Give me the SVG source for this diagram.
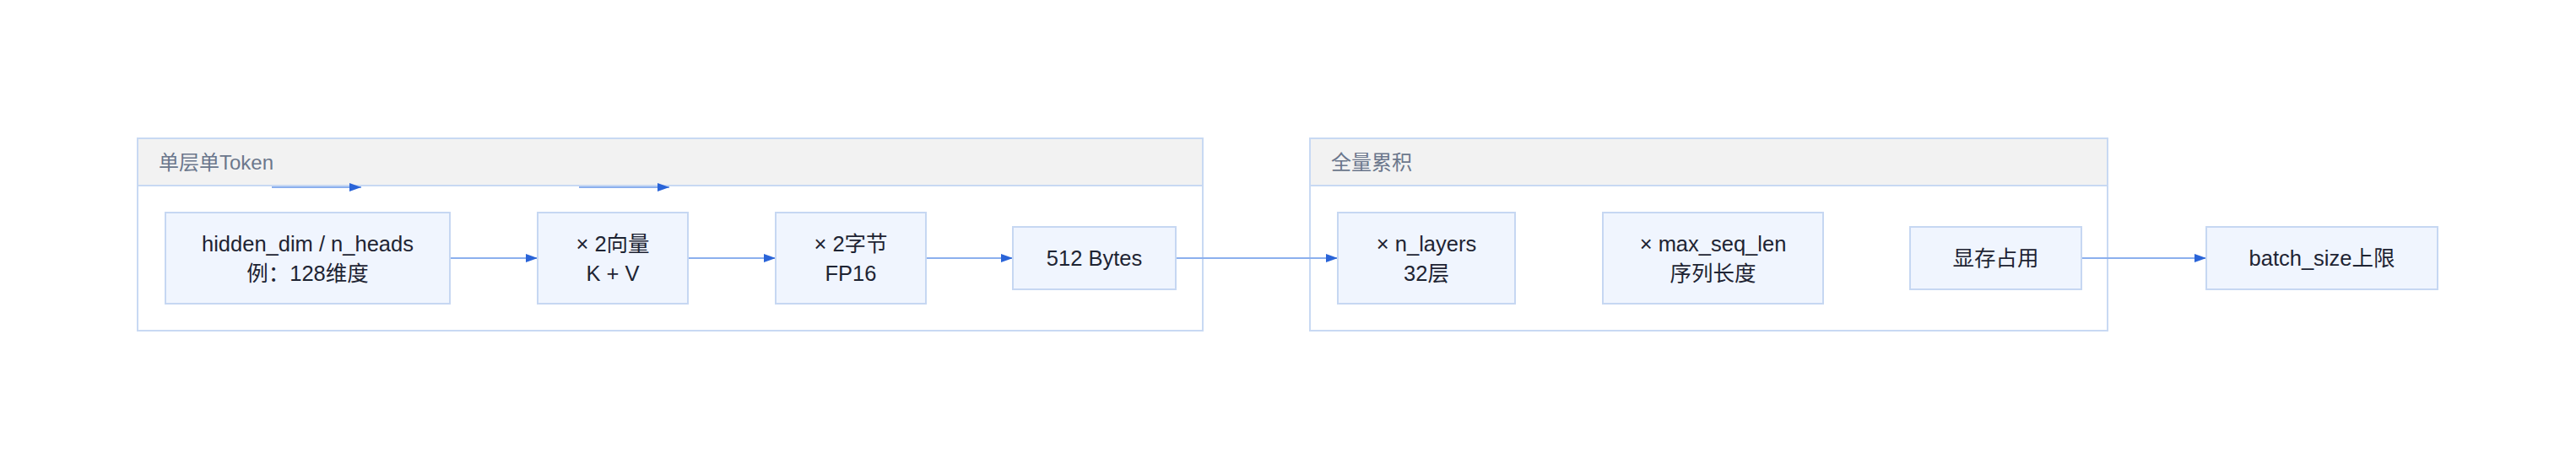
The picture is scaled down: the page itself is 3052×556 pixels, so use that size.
<svg xmlns="http://www.w3.org/2000/svg" width="3052" height="556" viewBox="0 0 3052 556">
<style>
.bg{fill:#ffffff}
.cluster{fill:#ffffff;stroke:#c8d9f3;stroke-width:2}
.chead{fill:#f2f2f2;stroke:#c8d9f3;stroke-width:2}
.clabel{font-family:"Liberation Sans","Noto Sans CJK SC",sans-serif;font-size:24px;fill:#6b778c}
.node rect{fill:#f0f5fe;stroke:#c6d7f2;stroke-width:2}
.node text{font-family:"Liberation Sans","Noto Sans CJK SC",sans-serif;font-size:25.5px;fill:#1e2433;text-anchor:middle}
.edge{stroke:#8cb0ee;stroke-width:2;fill:none;marker-end:url(#arr)}
</style>
<defs>
<marker id="arr" markerUnits="userSpaceOnUse" markerWidth="14" markerHeight="10" refX="14" refY="5" orient="auto" viewBox="0 0 14 10">
<path d="M0,0 L14,5 L0,10 z" fill="#2a64d8"/>
</marker>
</defs>
<rect class="bg" x="0" y="0" width="3052" height="556"/>
<g id="cluster-single">
<rect class="cluster" x="163" y="164" width="1262" height="228"/>
<rect class="chead" x="163" y="164" width="1262" height="56"/>
<text class="clabel" x="188" y="201">单层单Token</text>
</g>
<g id="cluster-total">
<rect class="cluster" x="1552" y="164" width="945" height="228"/>
<rect class="chead" x="1552" y="164" width="945" height="56"/>
<text class="clabel" x="1577" y="201">全量累积</text>
</g>
<g id="connectors">
<line class="edge" x1="322" y1="222" x2="428" y2="222"/>
<line class="edge" x1="686" y1="222" x2="793" y2="222"/>
<line class="edge" x1="533" y1="306" x2="637" y2="306"/>
<line class="edge" x1="815" y1="306" x2="919" y2="306"/>
<line class="edge" x1="1097" y1="306" x2="1200" y2="306"/>
<line class="edge" x1="1393" y1="306" x2="1585" y2="306"/>
<line class="edge" x1="2466" y1="306" x2="2614" y2="306"/>
</g>
<g id="n1" class="node">
<rect x="196" y="252" width="337" height="108"/>
<text x="364.5" y="298">hidden_dim / n_heads</text>
<text x="364.5" y="333">例：128维度</text>
</g>
<g id="n2" class="node">
<rect x="637" y="252" width="178" height="108"/>
<text x="726" y="298">× 2向量</text>
<text x="726" y="333">K + V</text>
</g>
<g id="n3" class="node">
<rect x="919" y="252" width="178" height="108"/>
<text x="1008" y="298">× 2字节</text>
<text x="1008" y="333">FP16</text>
</g>
<g id="n4" class="node">
<rect x="1200" y="269" width="193" height="74"/>
<text x="1296.5" y="315">512 Bytes</text>
</g>
<g id="n5" class="node">
<rect x="1585" y="252" width="210" height="108"/>
<text x="1690" y="298">× n_layers</text>
<text x="1690" y="333">32层</text>
</g>
<g id="n6" class="node">
<rect x="1899" y="252" width="261" height="108"/>
<text x="2029.5" y="298">× max_seq_len</text>
<text x="2029.5" y="333">序列长度</text>
</g>
<g id="n7" class="node">
<rect x="2263" y="269" width="203" height="74"/>
<text x="2364.5" y="315">显存占用</text>
</g>
<g id="n8" class="node">
<rect x="2614" y="269" width="274" height="74"/>
<text x="2751" y="315">batch_size上限</text>
</g>
</svg>
